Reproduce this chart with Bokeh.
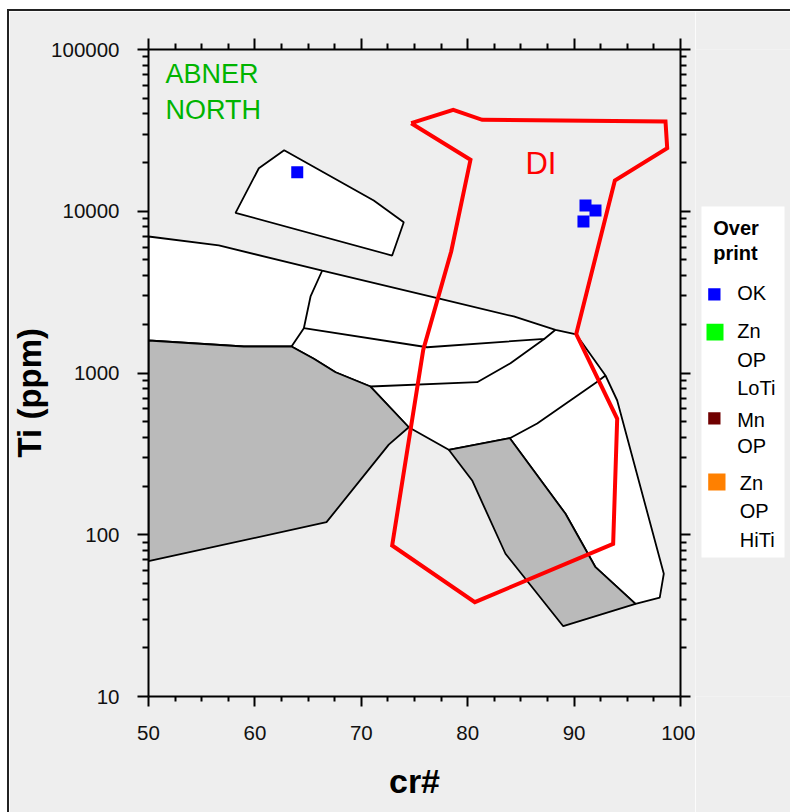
from bokeh.plotting import figure
from bokeh.models import (Range1d, LinearAxis, LogAxis, FixedTicker,
                          NumeralTickFormatter, Title)
from bokeh.layouts import row
from bokeh.embed import file_html
from bokeh.resources import INLINE
from bokeh.core.properties import value

FONT = "Liberation Sans"

# ---------------- data (cr#, Ti ppm) ----------------
# upper small white field
upper_x = [58.18, 60.37, 62.75, 71.17, 73.99, 72.90]
upper_y = [9780, 18450, 23850, 11660, 8555, 5325]

# main white field (outer outline)
main_x = [50.0, 56.61, 66.33, 77.44, 84.33, 88.25, 90.20, 92.95, 94.05, 98.43,
          98.05, 95.77, 92.01, 89.19, 83.96, 78.22, 74.46, 70.86, 67.58, 65.54,
          63.44, 58.96, 50.0]
main_y = [6980, 6144, 4302, 2875, 2236, 1850, 1730, 965, 676, 57.4,
          40.9, 37.4, 63.0, 134.8, 395.3, 335, 462, 825, 1011, 1224,
          1458, 1458, 1588]

# grey fields
gray_left_x = [50.0, 58.96, 63.44, 65.54, 67.58, 70.86, 74.46, 72.58, 66.73, 50.0]
gray_left_y = [1588, 1458, 1458, 1224, 1011, 825, 462, 361, 119.6, 68.6]

gray_right_x = [78.22, 83.96, 89.19, 92.01, 95.77, 88.98, 83.55, 80.42]
gray_right_y = [335, 395.3, 134.8, 63.0, 37.4, 27.2, 76.3, 216.5]

# internal dividing lines
div1_x = [64.60, 76.19, 87.22, 88.25]
div1_y = [1892, 1443, 1627, 1850]
div2_x = [70.86, 80.89, 84.02, 87.22]
div2_y = [825, 877, 1150, 1627]
div3_x = [66.33, 65.23, 64.60, 63.44]
div3_y = [4302, 2972, 1892, 1458]
div4_x = [83.96, 86.53, 92.11, 92.95]
div4_y = [395.3, 487, 877, 965]

# DI field (red outline)
di_x = [74.69, 78.64, 81.36, 98.59, 98.75, 93.83, 90.20, 94.05, 93.67, 80.67,
        72.90, 75.82, 78.45, 80.26, 74.69]
di_y = [35030, 42390, 36770, 35890, 24530, 15500, 1742, 521, 87.9, 38.3,
        85.8, 1388, 5639, 20800, 35030]

# samples (Overprint: OK)
ok_crno = [63.98, 91.07, 92.01, 90.88]
ok_ti = [17410, 10850, 10100, 8645]

# ticks
x_major = [50, 60, 70, 80, 90, 100]
x_minor = [52.5, 55, 57.5, 62.5, 65, 67.5, 72.5, 75, 77.5, 82.5, 85, 87.5,
           92.5, 95, 97.5]
y_major = [10, 100, 1000, 10000, 100000]
y_minor = [20, 30, 40, 50, 60, 70, 80, 90,
           200, 300, 400, 500, 600, 700, 800, 900,
           2000, 3000, 4000, 5000, 6000, 7000, 8000, 9000,
           20000, 30000, 40000, 50000, 60000, 70000, 80000, 90000]

# legend
legend_title = ["Over", "print"]
legend_colors = ["#0000ff", "#00ff00", "#700000", "#ff8000"]
legend_labels = [["OK"], ["Zn", "OP", "LoTi"], ["Mn", "OP"], ["Zn", "OP", "HiTi"]]

BG = "#eeeeee"
GRAY = "#bababa"

# ---------------- main figure ----------------
p = figure(width=686, height=801, x_range=Range1d(50, 100),
           y_range=Range1d(10, 100000), y_axis_type="log",
           toolbar_location=None, output_backend="svg",
           min_border_left=139, min_border_right=15, min_border_top=38,
           min_border_bottom=116, background_fill_color=BG,
           border_fill_color=BG, outline_line_color=None)
p.grid.visible = False

p.add_layout(LinearAxis(), "above")
p.add_layout(LogAxis(), "right")

xt = FixedTicker(ticks=x_major, minor_ticks=x_minor)
yt = FixedTicker(ticks=y_major, minor_ticks=y_minor)
for ax in p.xaxis:
    ax.ticker = xt
for ax in p.yaxis:
    ax.ticker = yt
    ax.formatter = NumeralTickFormatter(format="0")

for ax in list(p.xaxis) + list(p.yaxis):
    ax.axis_line_width = 2
    ax.axis_line_color = "black"
    ax.major_tick_line_width = 2
    ax.minor_tick_line_width = 2
    ax.major_tick_line_color = "black"
    ax.minor_tick_line_color = "black"
    ax.major_tick_in = 0
    ax.minor_tick_in = 0
    ax.major_tick_out = 11
    ax.minor_tick_out = 6
    ax.major_label_text_font = FONT
    ax.major_label_text_font_size = "20.5px"
    ax.major_label_text_color = "#111111"

bx = p.below[0]
bx.major_tick_out = 10
bx.minor_tick_out = 5
bx.major_label_standoff = 19
bx.axis_label = "cr#"
bx.axis_label_text_font = FONT
bx.axis_label_text_font_size = "34px"
bx.axis_label_text_font_style = "bold"
bx.axis_label_text_color = "black"
bx.axis_label_standoff = 19
p.left[0].major_label_standoff = 18
for ax in (p.above[0], p.right[0]):
    ax.major_label_text_font_size = "1px"
    ax.major_label_text_color = None
    ax.major_label_standoff = 0
p.right[0].major_tick_out = 10

# y-axis title (outermost on the left, shifted below the frame centre)
p.add_layout(Title(text="Ti (ppm)", align="left", offset=239,
                   vertical_align="middle", standoff=0, text_font=FONT,
                   text_font_size="33px", text_font_style="bold",
                   text_color="black"), "left")

# fields
p.patch(main_x, main_y, fill_color="white", line_color="black", line_width=1.8)
p.patch(upper_x, upper_y, fill_color="white", line_color="black", line_width=1.8)
p.patch(gray_left_x, gray_left_y, fill_color=GRAY, line_color="black", line_width=1.8)
p.patch(gray_right_x, gray_right_y, fill_color=GRAY, line_color="black", line_width=1.8)
p.multi_line([div1_x, div2_x, div3_x, div4_x], [div1_y, div2_y, div3_y, div4_y],
             line_color="black", line_width=1.8)
p.line(di_x, di_y, line_color="#ff0000", line_width=4, line_join="miter")

p.scatter(ok_crno, ok_ti, marker="square", size=12, fill_color="#0000ff",
          line_color=None)

p.text(x=[51.6, 51.6], y=[70150, 42330], text=["ABNER", "NORTH"],
       text_font=value(FONT), text_font_size="27px", text_color="#00b400",
       text_align="left", text_baseline="alphabetic")
p.text(x=[85.43], y=[19790], text=["DI"], text_font=value(FONT),
       text_font_size="31px", text_color="#ff0000", text_align="left",
       text_baseline="alphabetic")

# ---------------- legend panel ----------------
pl = figure(width=95, height=801, x_range=Range1d(695, 790),
            y_range=Range1d(696, 49), toolbar_location=None,
            output_backend="svg", min_border_left=0, min_border_right=0,
            min_border_top=38, min_border_bottom=116,
            x_axis_location=None, y_axis_location=None,
            background_fill_color=BG, border_fill_color=BG,
            outline_line_color=None)
pl.grid.visible = False
pl.quad(left=[701], right=[784], top=[206], bottom=[557], fill_color="white",
        line_color=None)
pl.text(x=[712.7, 712.7], y=[227, 252], text=legend_title,
        text_font=value(FONT), text_font_size="20px", text_font_style="bold",
        text_color="black", text_baseline="alphabetic")

sq_left = [707.7, 706, 707.7, 707.7]
sq_right = [720, 723, 720, 725]
sq_top = [287.7, 323.3, 411.7, 473]
sq_bottom = [300, 340, 424, 490]
pl.quad(left=sq_left, right=sq_right, top=sq_top, bottom=sq_bottom,
        fill_color=legend_colors, line_color=None)

lab_x = [736.7, 736.7, 736.7, 739.3]
lab_y0 = [292, 330, 419, 482]
lab_steps = [[0], [0, 29, 57], [0, 26.5], [0, 28, 57]]
tx, ty, tt = [], [], []
for labels, x0, y0, steps in zip(legend_labels, lab_x, lab_y0, lab_steps):
    for t, s in zip(labels, steps):
        tx.append(x0)
        ty.append(y0 + s)
        tt.append(t)
pl.text(x=tx, y=ty, text=tt, text_font=value(FONT), text_font_size="20px",
        text_color="black", text_baseline="alphabetic")

lay = row(p, pl)
lay.styles = {"margin-left": "7px", "margin-top": "9px",
              "border-left": "2px solid #222", "border-top": "2px solid #222"}

open("out.html", "w").write(file_html(lay, INLINE))
